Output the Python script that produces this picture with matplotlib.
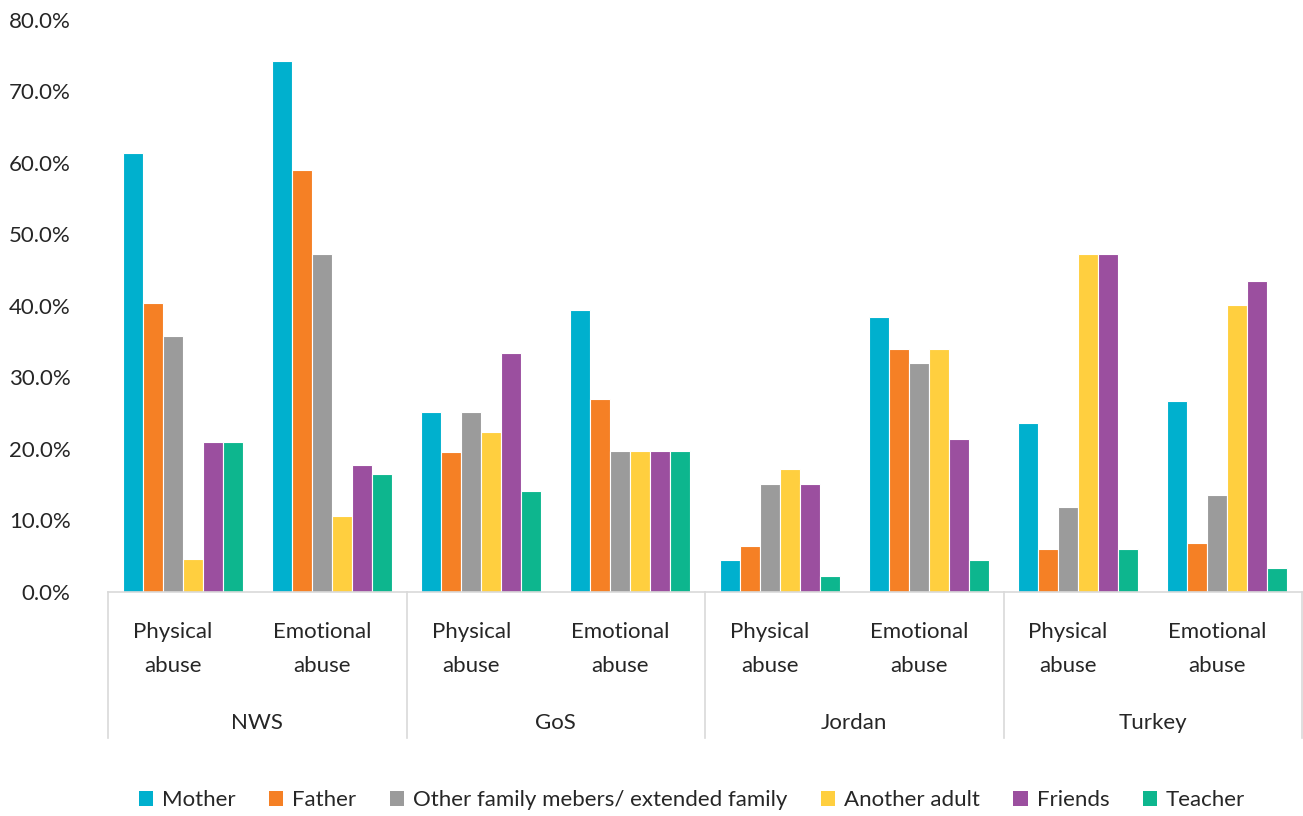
import numpy as np
import matplotlib.pyplot as plt
from matplotlib.ticker import FuncFormatter
from matplotlib.patches import Patch
from matplotlib.transforms import offset_copy

regions = ["NWS", "GoS", "Jordan", "Turkey"]
abuse_types = ["Physical\nabuse", "Emotional\nabuse"]
people = ["Mother", "Father", "Other family mebers/ extended family",
          "Another adult", "Friends", "Teacher"]
colors = ["#00B0CE", "#F58025", "#9B9B9B", "#FFCF3F", "#9B4F9F", "#0DB68E"]

# one value per (region, abuse type), same order as regions x abuse_types
mother = [61.4, 74.3, 25.2, 39.4, 4.5, 38.5, 23.6, 26.7]
father = [40.4, 59.0, 19.6, 27.0, 6.4, 34.0, 6.0, 6.8]
other_family = [35.8, 47.3, 25.2, 19.7, 15.1, 32.0, 11.9, 13.6]
another_adult = [4.6, 10.6, 22.4, 19.7, 17.2, 34.0, 47.3, 40.1]
friends = [21.0, 17.8, 33.4, 19.7, 15.1, 21.4, 47.3, 43.5]
teacher = [21.0, 16.5, 14.1, 19.7, 2.2, 4.5, 6.0, 3.4]

series = [mother, father, other_family, another_adult, friends, teacher]

plt.rcParams['font.family'] = ['Lato', 'DejaVu Sans']
txt = "#262626"
fs = 16

fig = plt.figure(figsize=(13.03, 8.16), dpi=100)
ax = fig.add_axes([108 / 1303, 1 - 592 / 816, 1194 / 1303, 572 / 816])

x = np.arange(len(mother))
w = 0.134
for i, (vals, c) in enumerate(zip(series, colors)):
    ax.bar(x + (i - 2.5) * w, np.array(vals) / 100, width=w, color=c,
           edgecolor="white", linewidth=0.8)

ax.set_xlim(-0.5, len(mother) - 0.5)
ax.set_ylim(0, 0.8)
ax.set_yticks(np.arange(0, 0.81, 0.1))
ax.yaxis.set_major_formatter(FuncFormatter(lambda v, p: f"{v * 100:.1f}%"))
ax.tick_params(axis="y", length=0, pad=27, labelsize=fs, labelcolor=txt)
ax.tick_params(axis="x", length=0, labelbottom=False)
for s in ["top", "right", "left"]:
    ax.spines[s].set_visible(False)
ax.spines["bottom"].set_color("#D9D9D9")
ax.spines["bottom"].set_linewidth(1.2)

# two-level category axis
trans = ax.get_xaxis_transform()
sub_trans = offset_copy(trans, fig=fig, x=-10, y=0, units="dots")
for j in range(len(mother)):
    ax.text(j, -0.1, abuse_types[j % 2], transform=sub_trans, ha="center",
            va="center", fontsize=fs, color=txt, linespacing=1.85)
for k, name in enumerate(regions):
    ax.text(2 * k + 0.5, -0.229, name, transform=trans, ha="center",
            va="center", fontsize=fs, color=txt)
for b in np.arange(-0.5, len(mother), 2):
    ax.plot([b, b], [0, -0.255], transform=trans, color="#D9D9D9",
            linewidth=1.2, clip_on=False)

handles = [Patch(facecolor=c, label=l) for c, l in zip(colors, people)]
fig.legend(handles=handles, loc="center", bbox_to_anchor=(692 / 1303, 1 - 800 / 816),
           ncol=6, frameon=False, fontsize=fs, handlelength=0.65, handleheight=0.65,
           handletextpad=0.4, columnspacing=1.5, labelcolor=txt)

fig.savefig("out.png", dpi=100)
